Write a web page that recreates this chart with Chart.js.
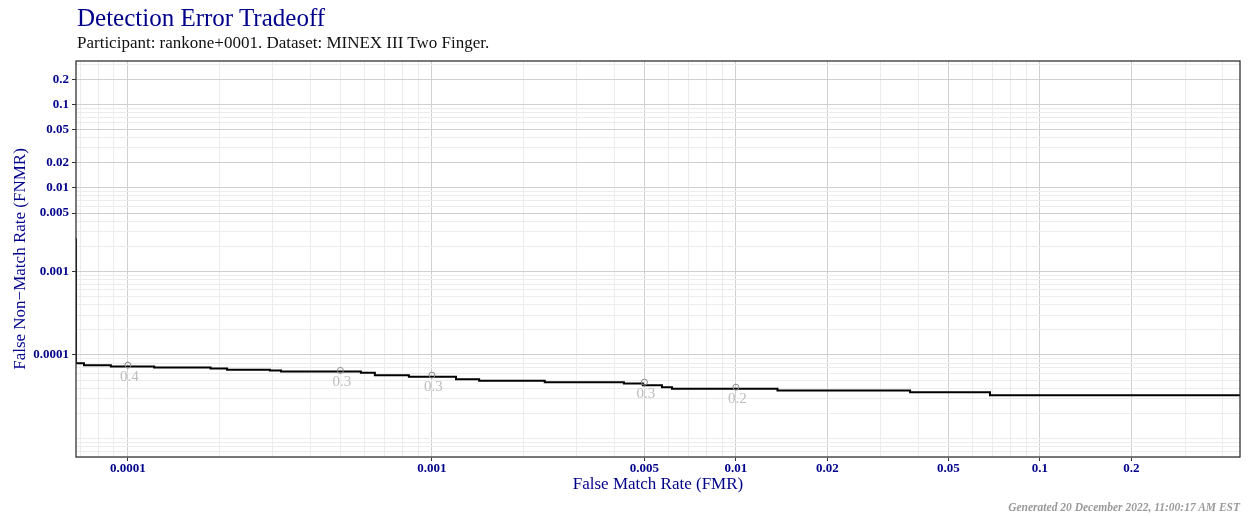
<!DOCTYPE html>
<html>
<head>
<meta charset="utf-8">
<script src="https://cdn.jsdelivr.net/npm/chart.js@4.4.1/dist/chart.umd.min.js"></script>
<style>
  html, body { margin: 0; padding: 0; background: #fff; }
  #wrap { position: relative; width: 1248px; height: 516px; }
  #chart { position: absolute; left: 0; top: 0; }
  .txt { position: absolute; font-family: 'Liberation Serif', serif; white-space: nowrap; line-height: 1; }
  #title { left: 77px; top: 5px; font-size: 25px; color: #00008B; }
  #subtitle { left: 77px; top: 34px; font-size: 17px; color: #111; }
  #footer { right: 8px; top: 502px; font-size: 11.5px; font-weight: bold; font-style: italic; color: #9a9a9a; }
</style>
</head>
<body>
<div id="wrap">
  <canvas id="chart" width="1248" height="516"></canvas>
  <div class="txt" id="title">Detection Error Tradeoff</div>
  <div class="txt" id="subtitle">Participant: rankone+0001. Dataset: MINEX III Two Finger.</div>
  <div class="txt" id="footer">Generated 20 December 2022, 11:00:17 AM EST</div>
</div>
<script>
// DET curve
const fmr  = [6.75e-5, 6.75e-5, 7.17e-5, 8.79e-5, 1.22e-4, 1.87e-4, 2.12e-4, 2.93e-4, 3.19e-4, 5.84e-4, 6.49e-4, 8.40e-4,
              1.20e-3, 1.43e-3, 2.35e-3, 4.28e-3, 4.94e-3, 5.71e-3, 6.16e-3, 1.37e-2, 3.74e-2, 6.85e-2, 0.307, 0.455];
const fnmr = [2.50e-3, 8.35e-5, 7.95e-5, 7.55e-5, 7.28e-5, 7.08e-5, 6.88e-5, 6.64e-5, 6.52e-5, 6.34e-5, 6.11e-5, 5.73e-5,
              5.48e-5, 5.12e-5, 4.90e-5, 4.72e-5, 4.55e-5, 4.34e-5, 4.11e-5, 3.94e-5, 3.74e-5, 3.57e-5, 3.30e-5, 3.30e-5];

// threshold markers
const thrFmr    = [1e-4, 5e-4, 1e-3, 5e-3, 1e-2];
const thrFnmr   = [7.55e-5, 6.52e-5, 5.73e-5, 4.72e-5, 4.11e-5];
const thrLabels = ['0.4', '0.3', '0.3', '0.3', '0.2'];

// labelled ticks
const xTickVals = [0.0001, 0.001, 0.005, 0.01, 0.02, 0.05, 0.1, 0.2];
const yTickVals = [0.0001, 0.001, 0.005, 0.01, 0.02, 0.05, 0.1, 0.2];

const xRange = [6.75e-5, 0.455];
const yRange = [6.0e-6, 0.33];

const navy = '#00008B';
const serif = "'Liberation Serif', serif";

function gridValues(min, max) {
  const out = [];
  for (let e = Math.floor(Math.log10(min)); e <= Math.ceil(Math.log10(max)); e++) {
    for (let k = 1; k <= 9; k++) {
      const v = +(k * Math.pow(10, e)).toPrecision(6);
      if (v >= min && v <= max) out.push(v);
    }
  }
  return out;
}
const isLabelled = (list, v) => list.some(l => Math.abs(v / l - 1) < 1e-6);

function axis(list, range, sizeProp, size) {
  return {
    type: 'logarithmic',
    min: range[0],
    max: range[1],
    afterBuildTicks: s => { s.ticks = gridValues(range[0], range[1]).map(v => ({ value: v })); },
    afterFit: s => { s[sizeProp] = size; },
    grid: {
      color: c => isLabelled(list, c.tick.value) ? '#d0d0d0' : '#ececec',
      lineWidth: 1,
      tickLength: 4,
      tickColor: c => isLabelled(list, c.tick.value) ? '#333' : 'rgba(0,0,0,0)'
    },
    border: { display: false },
    ticks: {
      autoSkip: false,
      maxRotation: 0,
      color: navy,
      font: { family: serif, size: 13, weight: 'bold' },
      callback: v => {
        const hit = list.find(l => Math.abs(v / l - 1) < 1e-6);
        return hit === undefined ? '' : String(hit);
      }
    }
  };
}

const framePlugin = {
  id: 'frame',
  afterDatasetsDraw(chart) {
    const { ctx, chartArea: a, scales } = chart;
    // threshold labels
    ctx.save();
    ctx.font = '15px ' + serif;
    ctx.fillStyle = '#bdbdbd';
    ctx.textAlign = 'center';
    ctx.textBaseline = 'middle';
    thrLabels.forEach((t, i) => {
      ctx.fillText(t, scales.x.getPixelForValue(thrFmr[i]) + 1.5, scales.y.getPixelForValue(thrFnmr[i]) + 11.5);
    });
    // panel border
    ctx.strokeStyle = '#333';
    ctx.lineWidth = 1.3;
    ctx.strokeRect(a.left, a.top, a.right - a.left, a.bottom - a.top);
    ctx.restore();
  }
};

const xScale = axis(xTickVals, xRange, 'height', 59);
xScale.ticks.padding = 0;
xScale.title = { display: true, text: 'False Match Rate (FMR)', color: navy, font: { family: serif, size: 17 }, padding: { top: 0, bottom: 21 } };

const yScale = axis(yTickVals, yRange, 'width', 76);
yScale.ticks.padding = 3;
yScale.title = { display: true, text: 'False Non\u2212Match Rate (FNMR)', color: navy, font: { family: serif, size: 17 }, padding: { top: 10, bottom: 0 } };

new Chart(document.getElementById('chart'), {
  type: 'scatter',
  data: {
    datasets: [
      {
        label: 'thresholds',
        data: thrFmr.map((x, i) => ({ x, y: thrFnmr[i] })),
        pointStyle: 'circle',
        pointRadius: 3,
        borderColor: '#8a8a8a',
        backgroundColor: 'rgba(0,0,0,0)',
        borderWidth: 1,
        showLine: false
      },
      {
        label: 'DET',
        data: fmr.map((x, i) => ({ x, y: fnmr[i] })),
        showLine: true,
        stepped: 'after',
        borderColor: '#000',
        borderWidth: 2,
        pointRadius: 0,
        fill: false
      }
    ]
  },
  options: {
    responsive: false,
    animation: false,
    devicePixelRatio: 1,
    layout: { padding: { left: 0, top: 61, right: 8, bottom: 0 } },
    plugins: { legend: { display: false }, tooltip: { enabled: false } },
    scales: { x: xScale, y: yScale }
  },
  plugins: [framePlugin]
});
</script>
</body>
</html>
